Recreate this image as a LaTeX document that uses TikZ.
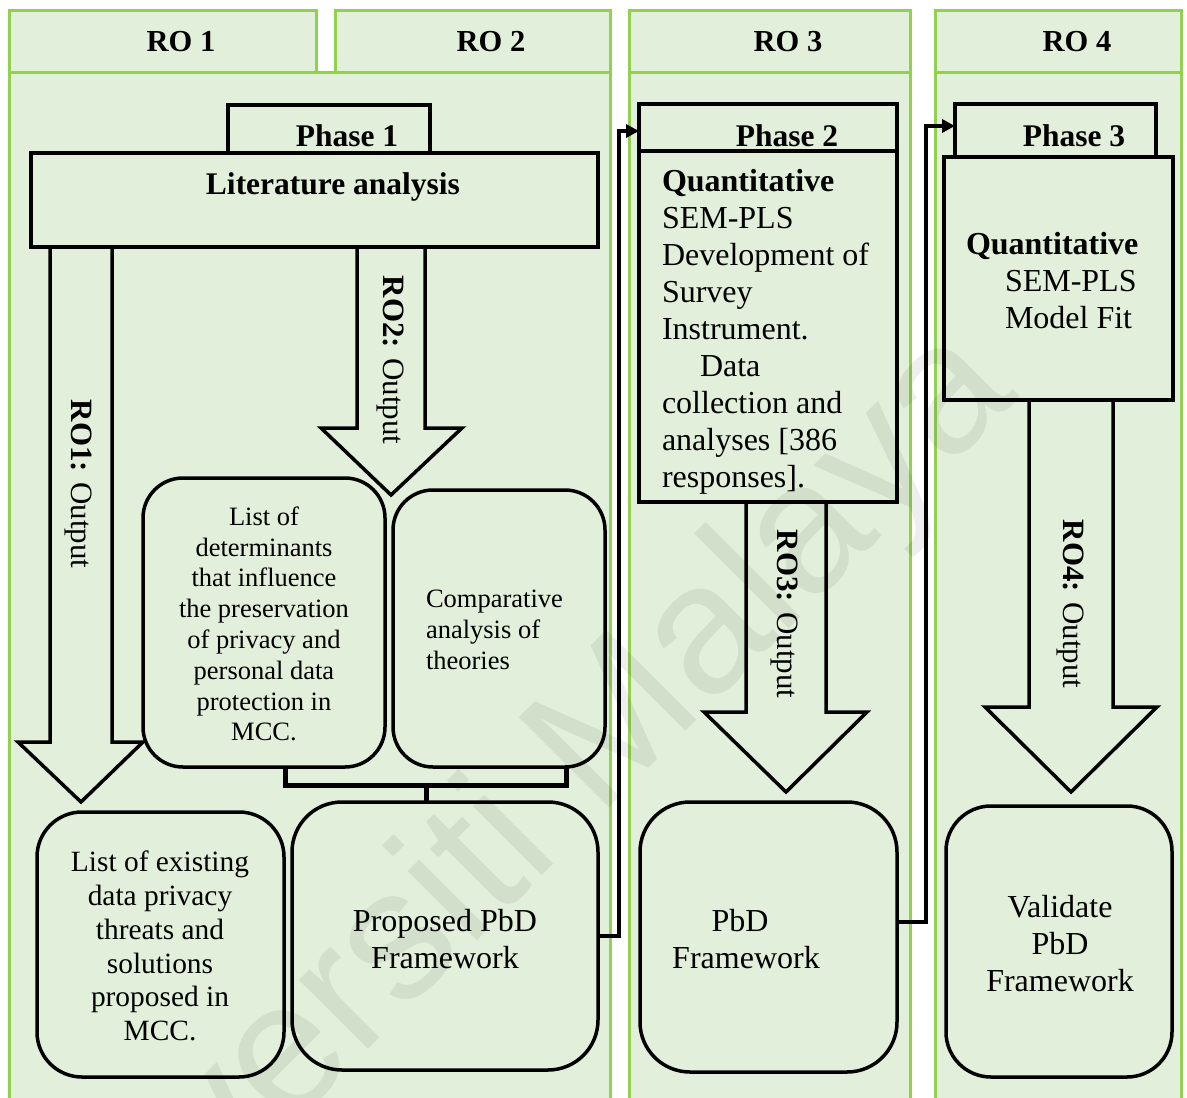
\documentclass[tikz,border=0pt]{standalone}
\usepackage{fontspec}
\setmainfont{Liberation Serif}
\newfontfamily\wmfont{Liberation Sans}
\usetikzlibrary{arrows.meta,calc}
\definecolor{panelfill}{RGB}{226,239,218}
\definecolor{panelline}{RGB}{146,208,80}

\begin{document}
\begin{tikzpicture}[x=1pt,y=-1pt,
  panel/.style={draw=panelline, line width=3pt, fill=panelfill, anchor=north west, inner sep=0pt, outer sep=0pt},
  frame/.style={draw=black, line width=3.5pt, fill=panelfill, anchor=north west, inner sep=0pt, outer sep=0pt},
  roundbox/.style={frame, rounded corners=#1},
  blockarrow/.style={draw=black, line width=3.5pt, fill=panelfill, line join=miter},
  link/.style={draw=black, line width=3.5pt, -{Triangle[length=13pt,width=13pt]}},
  bracket/.style={draw=black, line width=5pt},
  txt/.style={inner sep=0pt, outer sep=0pt},
  hdr/.style={txt, font=\fontsize{30.5}{36}\selectfont\bfseries},
  bigbold/.style={txt, font=\fontsize{31.5}{37}\selectfont\bfseries},
  big/.style={txt, font=\fontsize{32}{37}\selectfont},
  mid/.style={txt, font=\fontsize{29.4}{33.8}\selectfont},
  small/.style={txt, font=\fontsize{26.5}{30.8}\selectfont},
  rot/.style={txt, rotate=-90, font=\fontsize{31}{36}\selectfont}
]
\fill[white] (0,0) rectangle (1187,1098);
\useasboundingbox (0,0) rectangle (1187,1098);

% column panels
\node[panel, minimum width=307, minimum height=62] (hdrA) at (9,10) {};
\node[panel, minimum width=275, minimum height=62] (hdrB) at (335,10) {};
\node[panel, minimum width=601, minimum height=1045] (bodyAB) at (9,72) {};
\node[panel, minimum width=281, minimum height=62] (hdrC) at (629,10) {};
\node[panel, minimum width=281, minimum height=1045] (bodyC) at (629,72) {};
\node[panel, minimum width=246, minimum height=62] (hdrD) at (935,10) {};
\node[panel, minimum width=246, minimum height=1045] (bodyD) at (935,72) {};

\node[hdr] (ro1) at (181,42) {RO 1};
\node[hdr] (ro2) at (491,42) {RO 2};
\node[hdr] (ro3) at (788,42) {RO 3};
\node[hdr] (ro4) at (1077,42) {RO 4};

% block arrows carrying the outputs
\draw[blockarrow] (50,247) -- (50,742) -- (18,742) -- (81,802) -- (143,742) -- (112,742) -- (112,247);
\draw[blockarrow] (357,247) -- (357,428) -- (321,428) -- (391,495) -- (462,428) -- (425,428) -- (425,247);
\draw[blockarrow] (746,502) -- (746,712) -- (704,712) -- (786,792) -- (867,712) -- (826,712) -- (826,502);
\draw[blockarrow] (1029,400) -- (1029,707) -- (985,707) -- (1071,792) -- (1157,707) -- (1113,707) -- (1113,400);

% phase 1
\node[frame, minimum width=202, minimum height=49] (tab1) at (228,105) {};
\node[frame, minimum width=567, minimum height=94] (lit) at (31,153) {};
\node[bigbold] (tab1txt) at (347,136) {Phase 1};
\node[bigbold] (littxt) at (333,187) {Literature analysis};

% phase 2
\node[frame, minimum width=258, minimum height=47] (tab2) at (639,104) {};
\node[frame, minimum width=258, minimum height=351] (quant2) at (639,151) {};
\node[bigbold] (tab2txt) at (787,136) {Phase 2};
\node[big, align=left, anchor=west] (quant2txt) at (662,332)
  {\textbf{Quantitative}\\SEM-PLS\\Development of\\Survey\\Instrument.\\\hspace*{38pt}Data\\collection and\\analyses [386\\responses].};

% phase 3
\node[frame, minimum width=201, minimum height=53] (tab3) at (955,104) {};
\node[frame, minimum width=229, minimum height=243] (quant3) at (944,157) {};
\node[bigbold] (tab3txt) at (1074,136) {Phase 3};
\node[big, align=left, anchor=west] (quant3txt) at (966,281)
  {\textbf{Quantitative}\\\hspace*{39pt}SEM-PLS\\\hspace*{39pt}Model Fit};

% output boxes
\node[roundbox=40pt, minimum width=242, minimum height=289] (det) at (143,478) {};
\node[roundbox=40pt, minimum width=212, minimum height=277] (comp) at (393,490) {};
\node[roundbox=45pt, minimum width=247, minimum height=265] (exist) at (37,812) {};
\node[roundbox=50pt, minimum width=306, minimum height=268] (prop) at (292,802) {};
\node[roundbox=50pt, minimum width=257, minimum height=270] (pbd) at (640,802) {};
\node[roundbox=45pt, minimum width=226, minimum height=271] (valid) at (946,806) {};

\node[small, align=center] (dettxt) at (264,624)
  {List of\\determinants\\that influence\\the preservation\\of privacy and\\personal data\\protection in\\MCC.};
\node[small, align=left, anchor=west] (comptxt) at (426,630)
  {Comparative\\analysis of\\theories};
\node[mid, align=center] (existtxt) at (160,946)
  {List of existing\\data privacy\\threats and\\solutions\\proposed in\\MCC.};
\node[big, align=center] (proptxt) at (445,939) {Proposed PbD\\Framework};
\node[big, align=center] (pbdtxt) at (746,939) {PbD\hspace*{12pt}\\Framework};
\node[big, align=center] (validtxt) at (1060,944) {Validate\\PbD\\Framework};

% arrow labels
\node[rot] (lab1) at (78,484) {\textbf{RO1:} Output};
\node[rot] (lab2) at (390,360) {\textbf{RO2:} Output};
\node[rot] (lab3) at (784,614) {\textbf{RO3:} Output};
\node[rot] (lab4) at (1070,604) {\textbf{RO4:} Output};

% bracket joining the two RO2 outputs into the proposed framework
\draw[bracket] ($(det.south)+(21,0)$) -- ++(0,18) -| ($(comp.south)+(67,0)$);
\draw[bracket] ($(det.south)+(162,18)$) -- ($(prop.north)+(-19,0)$);

% phase links
\draw[link] (prop.east) -- ++(21,0) |- ($(tab2.west)+(0,3.5)$);
\draw[link] ($(pbd.east)+(0,-15)$) -- ++(29,0) |- ($(tab3.west)+(0,-4.5)$);

% watermark
\node[txt, rotate=45, font=\wmfont\fontsize{185}{185}\selectfont, text=black, text opacity=0.065] (wm) at (489,861) {Universiti Malaya};
\end{tikzpicture}
\end{document}
